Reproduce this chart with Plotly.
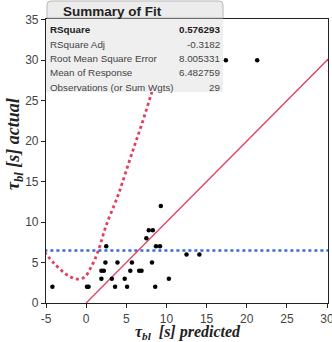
import plotly.graph_objects as go

# Data
pred = [-4.2, 0.1, 0.3, 9.3, 7.8, 8.3, 7.5, 2.5, 8.7, 9.2, 12.5, 14.1,
        2.4, 3.9, 5.7, 8.2, 1.9, 2.2, 5.5, 6.6, 6.9, 1.9, 3.2, 4.8, 10.3,
        3.6, 5.1, 8.6, 17.4, 21.3]
actual = [2, 2, 2, 12, 9, 9, 8, 7, 7, 7, 6, 6,
          5, 5, 5, 5, 4, 4, 4, 4, 4, 3, 3, 3, 3,
          2, 2, 2, 30, 30]

fit_x = [0, 30.5]
fit_y = [0, 30.5]

conf_x = [-5.2, -4.0, -2.7, -1.9, -1.05, -0.2, 0.6, 1.45, 2.5, 3.74, 4.15, 5.8, 7.06, 8.1, 8.8]
conf_y = [6.3, 4.9, 3.7, 3.2, 2.95, 3.2, 4.4, 6.3, 9.6, 12.7, 13.8, 18.8, 22.5, 25.8, 28.0]

mean_resp = 6.482759

x_ticks = [-5, 0, 5, 10, 15, 20, 25, 30]
y_ticks = [0, 5, 10, 15, 20, 25, 30, 35]

summary_labels = ["RSquare", "RSquare Adj", "Root Mean Square Error",
                  "Mean of Response", "Observations (or Sum Wgts)"]
summary_values = ["0.576293", "-0.3182", "8.005331", "6.482759", "29"]

RED = "#e0405e"
BLUE = "#3a6ad8"

fig = go.Figure()
fig.add_trace(go.Scatter(x=conf_x, y=conf_y, mode="lines",
                         line=dict(color=RED, width=2.8, dash="dot"),
                         line_shape="spline", hoverinfo="skip"))
fig.add_trace(go.Scatter(x=[-5.2, 30.5], y=[mean_resp, mean_resp], mode="lines",
                         line=dict(color=BLUE, width=2.5, dash="dot"), hoverinfo="skip"))
fig.add_trace(go.Scatter(x=fit_x, y=fit_y, mode="lines",
                         line=dict(color=RED, width=1.3), hoverinfo="skip"))
fig.add_trace(go.Scatter(x=pred, y=actual, mode="markers",
                         marker=dict(color="black", size=4.5)))

W, H = 332, 342
L, R, T, B = 46, 4, 19, 39
pw, ph = W - L - R, H - T - B


def px(xp):
    return (xp - L) / pw


def py(yp):
    return (H - B - yp) / ph


# Summary box body
fig.add_shape(type="rect", xref="paper", yref="paper",
              x0=px(46), x1=px(223), y0=py(92), y1=py(19),
              fillcolor="#efefef", line=dict(width=0), layer="above")
# Header tab with rounded top corners
x0, x1, y0, y1, r = px(47), px(223), py(18), py(1), 4
rx, ry = r / pw, r / ph
path = (f"M {x0},{y0} L {x0},{y1 - ry} Q {x0},{y1} {x0 + rx},{y1} "
        f"L {x1 - rx},{y1} Q {x1},{y1} {x1},{y1 - ry} L {x1},{y0} Z")
fig.add_shape(type="path", xref="paper", yref="paper", path=path,
              fillcolor="#ececec", line=dict(color="#b8b8b8", width=1), layer="above")

fig.add_annotation(xref="paper", yref="paper", x=px(61), y=py(11),
                   xanchor="left", yanchor="middle", showarrow=False,
                   text="<b>Summary of Fit</b>",
                   font=dict(family="Arial, Liberation Sans", size=13.5, color="#222"))

row_y = [30, 44, 58, 72.5, 87]
for i, (lab, val) in enumerate(zip(summary_labels, summary_values)):
    bold = i == 0
    t_lab = f"<b>{lab}</b>" if bold else lab
    t_val = f"<b>{val}</b>" if bold else val
    col = "#222" if bold else "#444"
    fig.add_annotation(xref="paper", yref="paper", x=px(48), y=py(row_y[i]),
                       xanchor="left", yanchor="middle", showarrow=False, text=t_lab,
                       font=dict(family="Arial, Liberation Sans", size=9.8, color=col))
    fig.add_annotation(xref="paper", yref="paper", x=px(222), y=py(row_y[i]),
                       xanchor="right", yanchor="middle", showarrow=False, text=t_val,
                       font=dict(family="Arial, Liberation Sans", size=9.8, color=col))

# Axis titles
title_font = dict(family="Liberation Serif, Times New Roman, serif", size=16, color="#222")
fig.add_annotation(xref="paper", yref="paper", x=px(14), y=py(144),
                   xanchor="center", yanchor="middle", showarrow=False, textangle=-90,
                   text="<b><i>τ<sub>bl</sub> [s] actual</i></b>",
                   font=dict(family="Liberation Serif, Times New Roman, serif", size=18, color="#222"))
fig.add_annotation(xref="paper", yref="paper", x=px(188), y=py(332.5),
                   xanchor="center", yanchor="middle", showarrow=False,
                   text="<b><i>τ<sub>bl</sub>  [s] predicted</i></b>", font=title_font)

tick_font = dict(family="Arial, Liberation Sans", size=12, color="#444")
fig.update_xaxes(range=[-5, 30.12], tickvals=x_ticks, ticktext=[str(v) for v in x_ticks],
                 showgrid=False, zeroline=False, showline=True, linecolor="#222",
                 linewidth=1.2, mirror=True, ticks="outside", ticklen=4,
                 tickcolor="#222", tickfont=tick_font, ticklabeloverflow="allow",
                 automargin=False)
fig.update_yaxes(range=[0, 35.1], tickvals=y_ticks, ticktext=[str(v) for v in y_ticks],
                 showgrid=False, zeroline=False, showline=True, linecolor="#222",
                 linewidth=1.2, mirror=True, ticks="outside", ticklen=4,
                 tickcolor="#222", tickfont=tick_font, ticklabeloverflow="allow",
                 automargin=False)

fig.update_layout(width=W, height=H, margin=dict(l=L, r=R, t=T, b=B, autoexpand=False),
                  plot_bgcolor="white", paper_bgcolor="white", showlegend=False)

fig.write_html("out.html")
